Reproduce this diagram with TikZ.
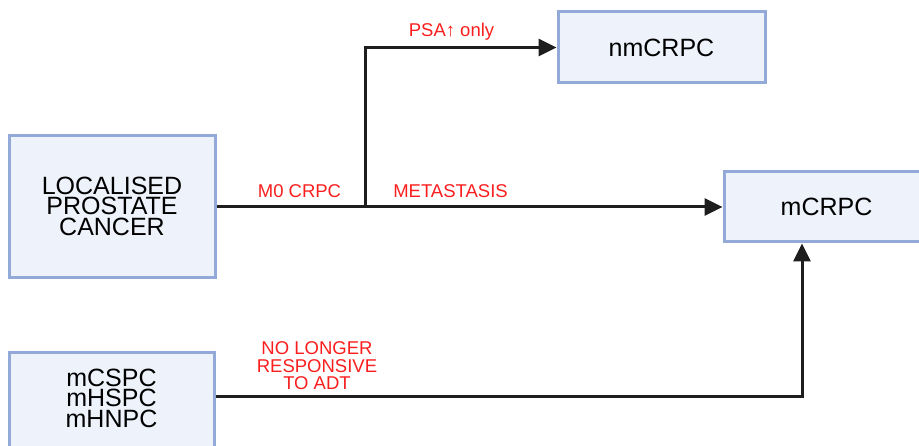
\documentclass[tikz,border=0pt]{standalone}
\usepackage{fontspec}
\setmainfont{Liberation Sans}
\usetikzlibrary{arrows.meta}
\definecolor{boxfill}{HTML}{EDF2FB}
\definecolor{boxline}{HTML}{93AAD9}
\definecolor{lblred}{HTML}{FA1E1E}
\definecolor{linecol}{HTML}{1E1E1E}
\tikzset{
  stage/.style={draw=boxline, fill=boxfill, line width=3pt, inner sep=0pt},
  stagetext/.style={align=center, font=\fontsize{25}{20.5}\selectfont, inner sep=0pt},
  redlbl/.style={text=lblred, align=center, font=\fontsize{18.5}{17.5}\selectfont, inner sep=0pt},
  flow/.style={draw=linecol, line width=3pt, -{Triangle[length=18pt,width=17pt]}}
}
\begin{document}
\begin{tikzpicture}[x=1pt,y=-1pt]
\useasboundingbox (0,0) rectangle (919,446);
\clip (0,0) rectangle (919,446);

% stage boxes
\node[stage, minimum width=206pt, minimum height=142pt] (loc) at (112,207) {};
\node[stagetext] (loctxt) at (112,206) {LOCALISED\\PROSTATE\\CANCER};

\node[stage, minimum width=205pt, minimum height=110pt] (met) at (111.5,408) {};
\node[stagetext] (mettxt) at (111.5,398) {mCSPC\\mHSPC\\mHNPC};

\node[stage, minimum width=207pt, minimum height=71pt] (nm) at (661.5,47.5) {};
\node[stagetext] (nmtxt) at (661.5,47.5) {nmCRPC};

\node[stage, minimum width=205pt, minimum height=70pt] (crpc) at (826.5,207) {};
\node[stagetext] (crpctxt) at (826.5,207) {mCRPC};

% connectors
\coordinate (br) at (365,207);
\coordinate (up) at (802,397);
\draw[flow] (loc.east) -- (crpc.west);
\draw[flow] (br) |- (nm.west);
\draw[flow] (met.east |- up) -- (up) -- (up |- crpc.south);

% labels
\node[redlbl, anchor=base] (psa) at (451.5,37) {PSA↑ only};
\node[redlbl, anchor=base] (m0) at (299.5,198) {M0 CRPC};
\node[redlbl, anchor=base] (mets) at (450.5,198) {METASTASIS};
\node[redlbl] (adt) at (317,366) {NO LONGER\\RESPONSIVE\\TO ADT};
\end{tikzpicture}
\end{document}
